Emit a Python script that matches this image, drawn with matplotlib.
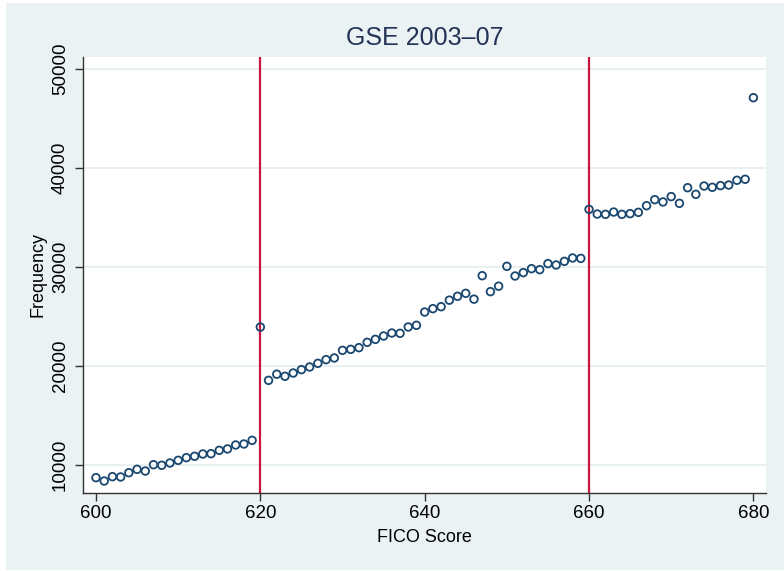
import numpy as np
import matplotlib.pyplot as plt
from matplotlib.patches import Rectangle

plt.rcParams['font.family'] = ['Liberation Sans', 'DejaVu Sans']

# FICO scores 600..680 and counts
fico = list(range(600, 681))
freq = [8720, 8380, 8820, 8790, 9220, 9560, 9390, 10030, 9970, 10200,
        10470, 10740, 10880, 11110, 11140, 11480, 11620, 12020, 12120, 12490,
        23930, 18550, 19170, 18960, 19290, 19630, 19900, 20270, 20640, 20810,
        21580, 21680, 21850, 22390, 22690, 23030, 23330, 23300, 23940, 24110,
        25450, 25790, 25990, 26650, 27040, 27340, 26750, 29120, 27510, 28060,
        30070, 29090, 29430, 29830, 29730, 30340, 30200, 30570, 30910, 30870,
        35820, 35350, 35320, 35550, 35320, 35390, 35520, 36190, 36800, 36570,
        37110, 36430, 38010, 37340, 38180, 38050, 38220, 38280, 38760, 38860,
        47100]
cutoffs = [620, 660]
title = "GSE 2003\u201307"

bg = '#eaf2f3'
navy = '#1a476f'

fig = plt.figure(figsize=(7.84, 5.71), dpi=100, facecolor='white')
fig.patches.append(Rectangle((6 / 784, 1 - 570 / 571), 778 / 784, 567 / 571,
                             transform=fig.transFigure, facecolor=bg,
                             edgecolor='none', zorder=-10))

ax = fig.add_axes([83 / 784, 1 - 492.7 / 571, 682.7 / 784, 435.7 / 571])
ax.set_facecolor('white')

for c in cutoffs:
    ax.axvline(c, color='#c8163e', lw=1.6, zorder=2)

ax.scatter(fico, freq, s=30, facecolors='none', edgecolors=navy,
           linewidths=1.3, zorder=3)

ax.set_xlim(598.42, 681.5)
ax.set_ylim(7200, 51212)
ax.set_xticks([600, 620, 640, 660, 680])
ax.set_yticks([10000, 20000, 30000, 40000, 50000])
ax.yaxis.grid(True, color='#e4edef', lw=1.2)
ax.set_axisbelow(True)

for s in ['top', 'right']:
    ax.spines[s].set_visible(False)
for s in ['left', 'bottom']:
    ax.spines[s].set_color('#333333')
    ax.spines[s].set_linewidth(1.0)

ax.tick_params(axis='both', direction='out', length=6, width=1.0,
               color='#333333', labelsize=13.5, labelcolor='black')
ax.tick_params(axis='x', pad=3)
ax.tick_params(axis='y', pad=4)
plt.setp(ax.get_yticklabels(), rotation=90, va='center')

ax.set_xlabel("FICO Score", fontsize=13, labelpad=5)
ax.set_ylabel("Frequency", fontsize=13, labelpad=4)

fig.text(424.4 / 784, 1 - 38 / 571, title, ha='center', va='center',
         fontsize=18, color='#223357')

fig.savefig('out.png', dpi=100, facecolor=fig.get_facecolor())
